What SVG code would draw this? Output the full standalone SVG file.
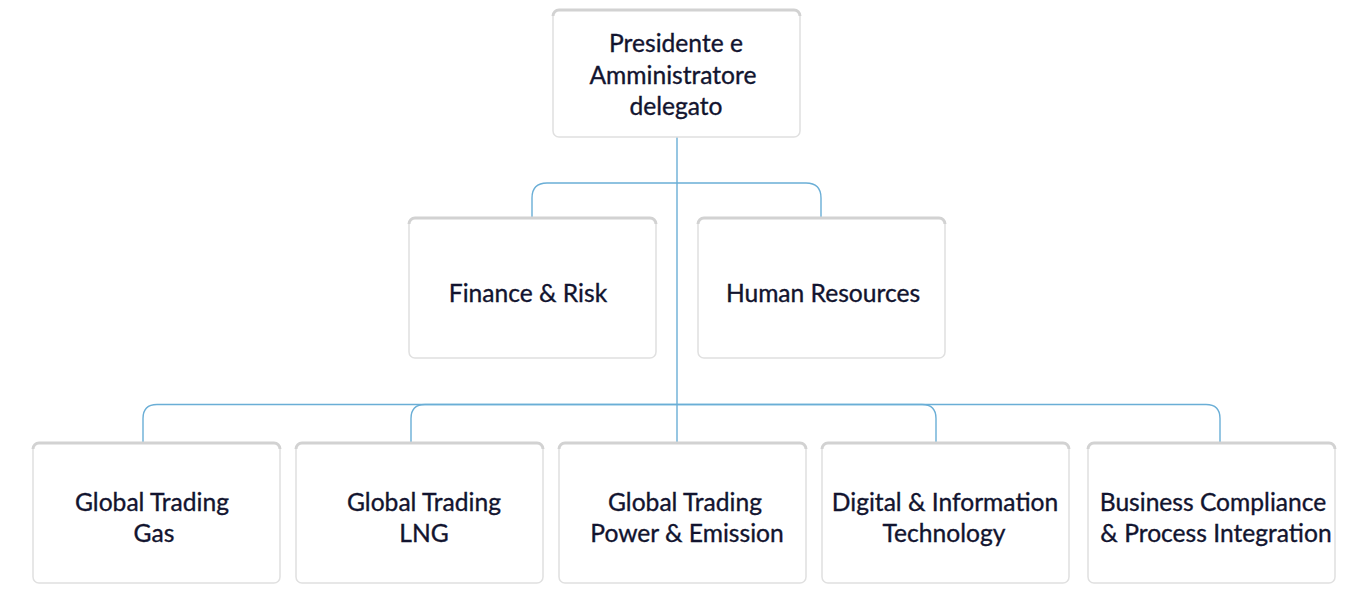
<svg xmlns="http://www.w3.org/2000/svg" width="1372" height="599" viewBox="0 0 1372 599">
<style>
.box{fill:#ffffff;stroke:#e0e0e0;stroke-width:1.5}
.top{fill:none;stroke:#d2d2d2;stroke-width:3}
.lbl{font-family:Lato,"Liberation Sans",sans-serif;font-size:24.6px;fill:#12142f;stroke:#12142f;stroke-width:0.35;text-anchor:middle}
.conn{fill:none;stroke:#6aaed6;stroke-width:1.4}
</style>
<rect width="1372" height="599" fill="#ffffff"/>
<g id="connectors">
<path class="conn" d="M677 137 V443"/>
<path class="conn" d="M677 183 H547 Q532 183 532 198 V218"/>
<path class="conn" d="M677 183 H806 Q821 183 821 198 V218"/>
<path class="conn" d="M677 404.5 H157 Q143 404.5 143 418.5 V443"/>
<path class="conn" d="M677 404.5 H425 Q411 404.5 411 418.5 V443"/>
<path class="conn" d="M677 404.5 H922 Q936 404.5 936 418.5 V443"/>
<path class="conn" d="M677 404.5 H1206 Q1220 404.5 1220 418.5 V443"/>
</g>
<g id="n-ceo">
<rect class="box" x="553" y="10" width="247" height="127" rx="6"/>
<path class="top" d="M553 16 A6 6 0 0 1 559 10 H794 A6 6 0 0 1 800 16"/>
<text class="lbl" x="676" y="52">Presidente e</text>
<text class="lbl" x="673" y="84">Amministratore</text>
<text class="lbl" x="676" y="115">delegato</text>
</g>
<g id="n-finance">
<rect class="box" x="409" y="218" width="247" height="140" rx="6"/>
<path class="top" d="M409 224 A6 6 0 0 1 415 218 H650 A6 6 0 0 1 656 224"/>
<text class="lbl" x="528" y="302">Finance &amp; Risk</text>
</g>
<g id="n-hr">
<rect class="box" x="698" y="218" width="247" height="140" rx="6"/>
<path class="top" d="M698 224 A6 6 0 0 1 704 218 H939 A6 6 0 0 1 945 224"/>
<text class="lbl" x="823" y="302">Human Resources</text>
</g>
<g id="n-gas">
<rect class="box" x="33" y="443" width="247" height="140" rx="6"/>
<path class="top" d="M33 449 A6 6 0 0 1 39 443 H274 A6 6 0 0 1 280 449"/>
<text class="lbl" x="152" y="511">Global Trading</text>
<text class="lbl" x="154" y="542">Gas</text>
</g>
<g id="n-lng">
<rect class="box" x="296" y="443" width="247" height="140" rx="6"/>
<path class="top" d="M296 449 A6 6 0 0 1 302 443 H537 A6 6 0 0 1 543 449"/>
<text class="lbl" x="424" y="511">Global Trading</text>
<text class="lbl" x="424" y="542">LNG</text>
</g>
<g id="n-power">
<rect class="box" x="559" y="443" width="247" height="140" rx="6"/>
<path class="top" d="M559 449 A6 6 0 0 1 565 443 H800 A6 6 0 0 1 806 449"/>
<text class="lbl" x="685" y="511">Global Trading</text>
<text class="lbl" x="687" y="542">Power &amp; Emission</text>
</g>
<g id="n-digital">
<rect class="box" x="822" y="443" width="247" height="140" rx="6"/>
<path class="top" d="M822 449 A6 6 0 0 1 828 443 H1063 A6 6 0 0 1 1069 449"/>
<text class="lbl" x="945" y="511">Digital &amp; Information</text>
<text class="lbl" x="944" y="542">Technology</text>
</g>
<g id="n-business">
<rect class="box" x="1088" y="443" width="247" height="140" rx="6"/>
<path class="top" d="M1088 449 A6 6 0 0 1 1094 443 H1329 A6 6 0 0 1 1335 449"/>
<text class="lbl" x="1213" y="511">Business Compliance</text>
<text class="lbl" x="1216" y="542">&amp; Process Integration</text>
</g>
</svg>
